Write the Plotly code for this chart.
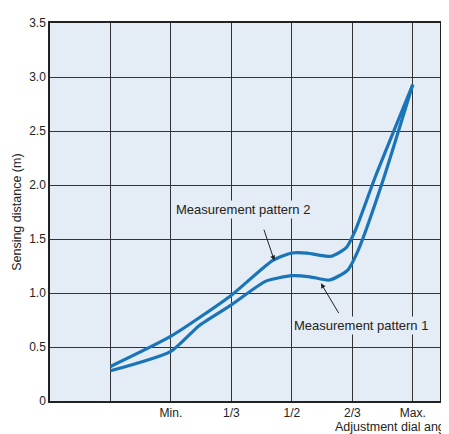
import plotly.graph_objects as go

# dial positions: 0 = far left line, 1 = Min ... 5 = Max
x_p1 = [0, 1, 1.47, 2, 2.57, 3, 3.3, 3.62, 3.92, 4.1, 4.5, 5]
y_p1 = [0.28, 0.46, 0.70, 0.89, 1.11, 1.16, 1.15, 1.12, 1.21, 1.40, 2.03, 2.93]
x_p2 = [0, 1, 2, 2.68, 3, 3.25, 3.65, 3.9, 4.05, 4.39, 5]
y_p2 = [0.32, 0.60, 0.98, 1.30, 1.37, 1.37, 1.34, 1.42, 1.58, 2.09, 2.93]
x_ticks = [1, 2, 3, 4, 5]
x_labels = ["Min.", "1/3", "1/2", "2/3", "Max."]
y_ticks = [0, 0.5, 1.0, 1.5, 2.0, 2.5, 3.0, 3.5]
y_labels = ["0", "0.5", "1.0", "1.5", "2.0", "2.5", "3.0", "3.5"]

blue = "#1a75b8"
bg = "#e4ecf6"
fig = go.Figure()
for xs, ys in [(x_p1, y_p1), (x_p2, y_p2)]:
    fig.add_scatter(x=xs, y=ys, mode="lines", line=dict(color=blue, width=3.2, shape="spline", smoothing=0.6),
                    showlegend=False)

fig.add_annotation(x=2.71, y=1.30, ax=2.53, ay=1.60, axref="x", ayref="y", text="",
                   showarrow=True, arrowhead=2, arrowsize=1, arrowwidth=1, arrowcolor="#222", standoff=0)
fig.add_annotation(x=2.19, y=1.77, text="Measurement pattern 2", showarrow=False, bgcolor=bg,
                   font=dict(size=13, color="#222"))
fig.add_annotation(x=3.48, y=1.09, ax=3.79, ay=0.80, axref="x", ayref="y", text="",
                   showarrow=True, arrowhead=2, arrowsize=1, arrowwidth=1, arrowcolor="#222", standoff=0)
fig.add_annotation(x=4.15, y=0.70, text="Measurement pattern 1", showarrow=False, bgcolor=bg,
                   font=dict(size=13, color="#222"))
fig.add_annotation(x=1, xref="paper", y=-0.069, yref="paper", xanchor="right", yanchor="middle",
                   xshift=17, text="Adjustment dial angle", showarrow=False, font=dict(size=12.5, color="#222"))
fig.add_annotation(x=-0.085, xref="paper", y=0.5, yref="paper", textangle=-90, xanchor="center",
                   text="Sensing distance (m)", showarrow=False, font=dict(size=12.5, color="#222"))

fig.update_layout(
    width=449, height=434, margin=dict(l=42, r=17, t=15, b=41),
    plot_bgcolor=bg, paper_bgcolor="white",
    font=dict(family="Liberation Sans, Arial", size=12, color="#222"),
    xaxis=dict(range=[-1, 5.45], tickvals=[0] + x_ticks, ticktext=[""] + x_labels, showgrid=True,
               gridcolor="#333", gridwidth=1, zeroline=False, showline=True, linecolor="#222",
               linewidth=1.5, mirror=True, ticks="", automargin=False),
    yaxis=dict(range=[0, 3.5], tickvals=y_ticks, ticktext=y_labels, showgrid=True, gridcolor="#333",
               gridwidth=1, zeroline=False, showline=True, linecolor="#222", linewidth=1.5, mirror=True,
               ticks="", automargin=False),
)
fig.write_html("out.html")
